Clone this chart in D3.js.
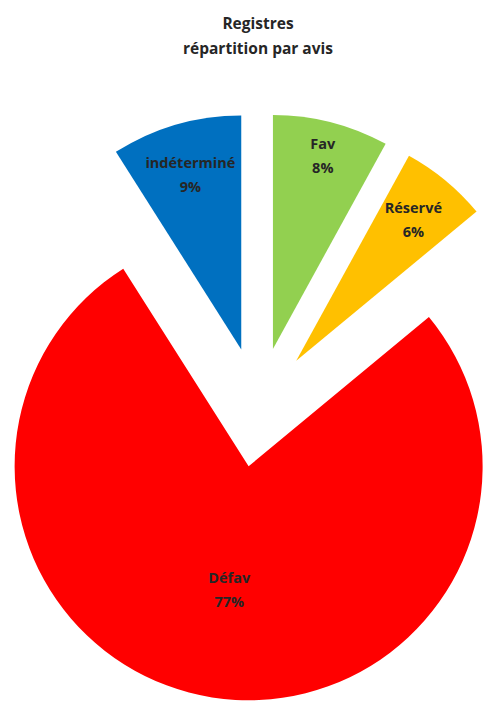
<!DOCTYPE html>
<html>
<head>
<meta charset="utf-8">
<script src="https://cdn.jsdelivr.net/npm/d3@7"></script>
<style>
  html, body { margin: 0; padding: 0; background: #fff; }
  svg { display: block; }
  text { font-family: "Open Sans", "Liberation Sans", sans-serif; font-weight: bold; fill: #262626; }
</style>
</head>
<body>
<svg id="chart" width="483" height="703"></svg>
<script>
// Répartition des registres par avis
const categories = ["Fav", "Réservé", "Défav", "indéterminé"];
const values = [8, 6, 77, 9];
const percentLabels = ["8%", "6%", "77%", "9%"];
const colors = ["#92D050", "#FFC000", "#FF0000", "#0070C0"];
const titleLines = ["Registres", "répartition par avis"];

const width = 483, height = 703;
const svg = d3.select("#chart");

// Title
svg.append("g")
  .selectAll("text")
  .data(titleLines)
  .join("text")
  .attr("x", 258)
  .attr("y", (d, i) => 29 + i * 25)
  .attr("text-anchor", "middle")
  .attr("font-size", 15.5)
  .text(d => d);

// Pie geometry
const cx = 258, cy = 407;
const radius = 234;
const explode = 60;
// radial placement of each data label, as a share of the radius
const labelRadiusShare = [0.857, 0.785, 0.53, 0.78];

const pie = d3.pie().sort(null).value(d => d.value);
const arc = d3.arc().innerRadius(0).outerRadius(radius);

const data = categories.map((c, i) => ({
  name: c, value: values[i], label: percentLabels[i], color: colors[i], lr: labelRadiusShare[i]
}));
const arcs = pie(data);

const g = svg.append("g").attr("transform", `translate(${cx},${cy})`);

const slices = g.selectAll("g.slice")
  .data(arcs)
  .join("g")
  .attr("class", "slice")
  .attr("transform", d => {
    const mid = (d.startAngle + d.endAngle) / 2;
    return `translate(${explode * Math.sin(mid)},${-explode * Math.cos(mid)})`;
  });

slices.append("path")
  .attr("d", arc)
  .attr("fill", d => d.data.color);

// Data labels placed along each slice's bisector
slices.each(function(d) {
  const mid = (d.startAngle + d.endAngle) / 2;
  const lr = d.data.lr * radius;
  const x = lr * Math.sin(mid);
  const y = -lr * Math.cos(mid);
  const t = d3.select(this).append("text")
    .attr("text-anchor", "middle")
    .attr("font-size", 14.5);
  t.append("tspan").attr("x", x).attr("y", y - 6).text(d.data.name);
  t.append("tspan").attr("x", x).attr("y", y + 18).text(d.data.label);
});
</script>
</body>
</html>
